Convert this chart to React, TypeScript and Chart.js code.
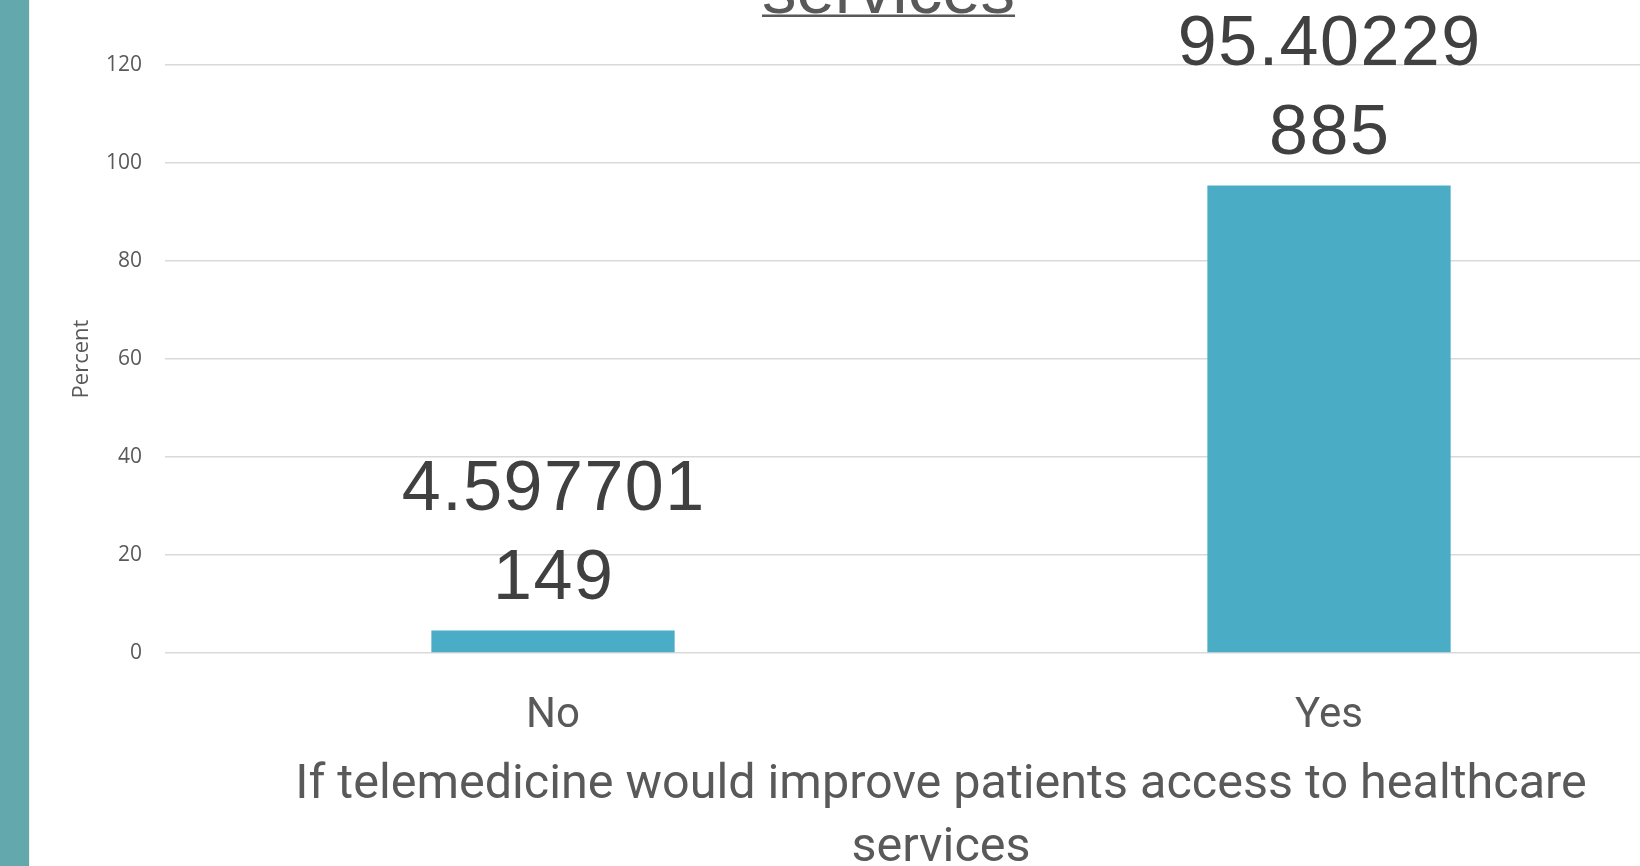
import React, { useEffect, useRef } from "react";
import { Chart, registerables } from "chart.js";

Chart.register(...registerables);

// Survey answers and their share of respondents (%)
const categories: string[] = ["No", "Yes"];
const percentValues: number[] = [4.597701149, 95.40229885];

// Value axis
const yMin = 0;
const yMax = 120;
const yStep = 20;
const yAxisTitle = "Percent";

// Titles
const chartTitleLines: string[] = [
  "If telemedicine would improve patients access to healthcare",
  "services",
];
const xAxisTitleLines: string[] = [
  "If telemedicine would improve patients access to healthcare",
  "services",
];

// Canvas is wider/taller than the visible frame; the frame clips it.
const FRAME_W = 1640;
const FRAME_H = 866;
const CANVAS_W = 1800;
const CANVAS_H = 880;

const BAR_COLOR = "#4bacc6";
const GRID_COLOR = "#d9d9d9";
const TEXT_GREY = "#595959";
const LABEL_DARK = "#404040";

// Splits a value's decimal text into fixed-width chunks, the way the labels wrap.
function wrapValue(v: number, width: number): string[] {
  const s = String(v);
  const out: string[] = [];
  for (let i = 0; i < s.length; i += width) out.push(s.slice(i, i + width));
  return out;
}

const valueLabelsPlugin = {
  id: "valueLabels",
  afterDatasetsDraw(chart: any) {
    const ctx = chart.ctx as CanvasRenderingContext2D;
    const meta = chart.getDatasetMeta(0);
    const data = chart.data.datasets[0].data as number[];
    ctx.save();
    ctx.font = "70px 'Liberation Sans', Arial, sans-serif";
    (ctx as any).letterSpacing = "1.5px";
    ctx.fillStyle = LABEL_DARK;
    ctx.textAlign = "center";
    ctx.textBaseline = "middle";
    meta.data.forEach((bar: any, i: number) => {
      const lines = wrapValue(data[i], 8);
      const lineH = 89;
      const lastY = bar.y - 51;
      lines.forEach((line, j) => {
        const y = lastY - (lines.length - 1 - j) * lineH;
        ctx.fillText(line, bar.x + 0.75, y);
      });
    });
    ctx.restore();
  },
};

const underlinedTitlePlugin = {
  id: "underlinedTitle",
  afterDraw(chart: any) {
    const ctx = chart.ctx as CanvasRenderingContext2D;
    const centerX = 888.5;
    const lastBaseline = 13;
    const lineH = 80;
    ctx.save();
    ctx.font = "69px 'Liberation Sans', Arial, sans-serif";
    ctx.fillStyle = TEXT_GREY;
    ctx.textAlign = "center";
    ctx.textBaseline = "alphabetic";
    chartTitleLines.forEach((line, j) => {
      const y = lastBaseline - (chartTitleLines.length - 1 - j) * lineH;
      ctx.fillText(line, centerX, y);
      const w = ctx.measureText(line).width;
      ctx.fillRect(centerX - w / 2, y + 1.5, w, 2.5);
    });
    ctx.restore();
  },
};

export default function App() {
  const canvasRef = useRef<HTMLCanvasElement | null>(null);

  useEffect(() => {
    const canvas = canvasRef.current;
    if (!canvas) return;
    const chart = new Chart(canvas, {
      type: "bar",
      data: {
        labels: categories,
        datasets: [
          {
            label: yAxisTitle,
            data: percentValues,
            backgroundColor: BAR_COLOR,
            borderWidth: 0,
            barPercentage: 1,
            categoryPercentage: 0.3135,
          },
        ],
      },
      plugins: [valueLabelsPlugin, underlinedTitlePlugin],
      options: {
        responsive: false,
        animation: false,
        devicePixelRatio: 1,
        layout: { padding: { top: 65, left: 0, right: CANVAS_W - 1717, bottom: 0 } },
        plugins: {
          legend: { display: false },
          title: { display: false },
          tooltip: { enabled: false },
        },
        scales: {
          x: {
            type: "category",
            offset: true,
            grid: { display: false, drawTicks: false },
            border: { display: false },
            ticks: {
              padding: 38,
              color: TEXT_GREY,
              font: { family: "Roboto", size: 42, lineHeight: 1.2 },
            },
            title: {
              display: true,
              text: xAxisTitleLines,
              color: TEXT_GREY,
              font: { family: "Roboto", size: 48.5, lineHeight: 1.3 },
              padding: { top: 0, bottom: 0 },
            },
            afterFit(scale: any) {
              scale.height = CANVAS_H - 653;
            },
          },
          y: {
            min: yMin,
            max: yMax,
            grid: { color: GRID_COLOR, lineWidth: 1.5, drawTicks: false },
            border: { display: false },
            ticks: {
              stepSize: yStep,
              padding: 23,
              color: TEXT_GREY,
              font: { family: "'Open Sans'", size: 21, lineHeight: 1.2 },
            },
            title: {
              display: true,
              text: yAxisTitle,
              color: TEXT_GREY,
              font: { family: "'Open Sans'", size: 22, lineHeight: 1.2 },
              padding: { top: 69, bottom: 0 },
            },
            afterFit(scale: any) {
              scale.width = 165;
            },
          },
        },
      },
    });
    return () => chart.destroy();
  }, []);

  return (
    <div
      style={{
        position: "fixed",
        left: 0,
        top: 0,
        width: FRAME_W,
        height: FRAME_H,
        overflow: "hidden",
        background: "#ffffff",
      }}
    >
      <canvas
        ref={canvasRef}
        width={CANVAS_W}
        height={CANVAS_H}
        style={{ position: "absolute", left: 0, top: 0, width: CANVAS_W, height: CANVAS_H }}
      />
      <div
        style={{
          position: "absolute",
          left: 0,
          top: 0,
          width: 29,
          height: FRAME_H,
          background: "#62a8ac",
        }}
      />
      <div
        style={{
          position: "absolute",
          left: 29,
          top: 0,
          width: 1,
          height: FRAME_H,
          background: "#f3f0e4",
        }}
      />
    </div>
  );
}
